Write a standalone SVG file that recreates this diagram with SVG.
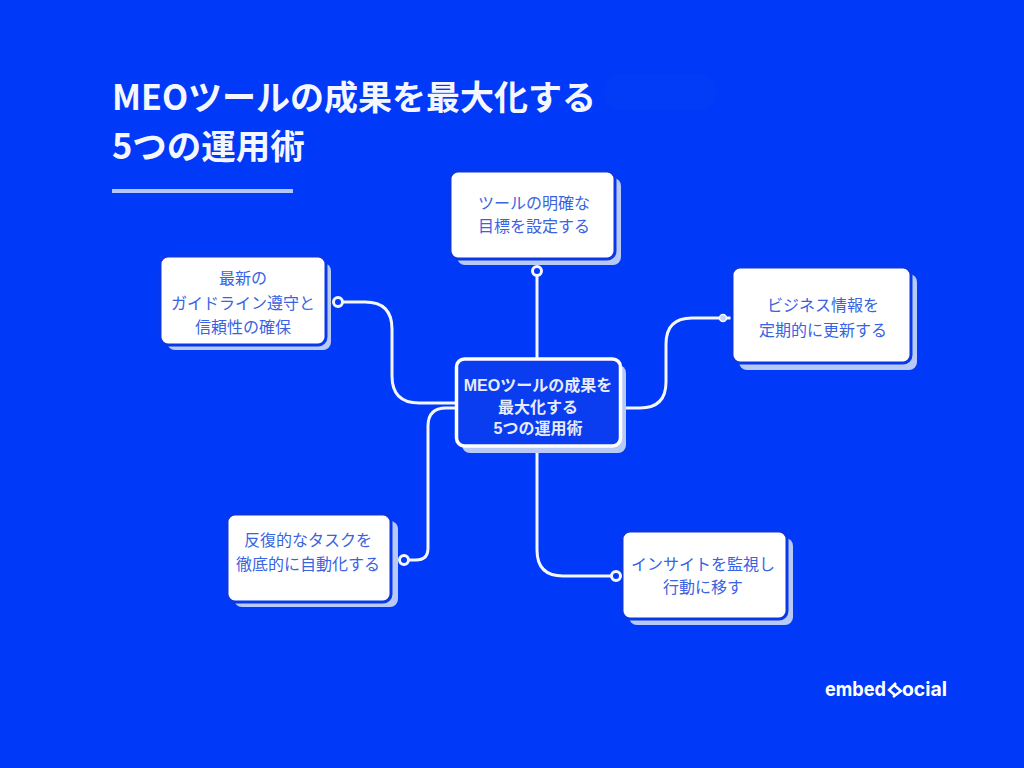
<svg xmlns="http://www.w3.org/2000/svg" width="1024" height="768" viewBox="0 0 1024 768">
<style>
.sh{fill:#b7c9f6}
.box{fill:#fff;stroke:#0a38e6;stroke-width:3}
.t{font-family:"Noto Sans CJK JP","Liberation Sans",sans-serif;font-size:16px;fill:#3a63e2;text-anchor:middle}
.ct{font-family:"Liberation Sans","Noto Sans CJK JP",sans-serif;font-size:16px;font-weight:700;fill:#e6ecfd;text-anchor:middle}
.ttl{font-family:"Noto Sans CJK JP","DejaVu Sans",sans-serif;font-size:34.500px;font-weight:700;fill:#f4f7ff}
.c{fill:none;stroke:#f4f7ff;stroke-width:3}
.dot{fill:#0039f7;stroke:#f4f7ff;stroke-width:3}
</style>
<rect width="1024" height="768" fill="#0039f7"/>
<rect x="604" y="74" width="112" height="36" rx="16" fill="#023cf7"/>
<g id="title">
<text class="ttl" x="112" y="110" textLength="484" lengthAdjust="spacingAndGlyphs">MEOツールの成果を最大化する</text>
<text class="ttl" x="112" y="159">5つの運用術</text>
<rect x="112" y="189" width="181" height="4" fill="#b3c7fb"/>
</g>
<g id="connectors">
<path class="c" d="M537 276V358"/>
<path class="c" d="M342 302H365Q392 302 392 329V376Q392 403 419 403H456"/>
<path class="c" d="M408 560H416Q428 560 428 548V426Q428 408 446 408H458"/>
<path class="c" d="M622 408H640Q666 408 666 382V344Q666 318 692 318H733"/>
<path class="c" d="M537 447V550Q537 576 563 576H612"/>
</g>
<g id="node-top">
<rect class="sh" x="457" y="178" width="164" height="87" rx="8"/>
<rect class="box" x="450" y="171" width="165" height="88" rx="8"/>
<text class="t" x="534" y="209">ツールの明確な</text>
<text class="t" x="534" y="232">目標を設定する</text>
<circle class="dot" cx="537" cy="271" r="4.5"/>
</g>
<g id="node-left">
<rect class="sh" x="167" y="263" width="164" height="87" rx="8"/>
<rect class="box" x="160" y="256" width="166" height="89" rx="8"/>
<text class="t" x="243" y="284">最新の</text>
<text class="t" x="243" y="309">ガイドライン遵守と</text>
<text class="t" x="243" y="333">信頼性の確保</text>
<circle class="dot" cx="338" cy="302" r="4.5"/>
</g>
<g id="node-right">
<rect class="sh" x="739" y="274" width="178" height="96" rx="8"/>
<rect class="box" x="732" y="267" width="179" height="96" rx="8"/>
<text class="t" x="823" y="311">ビジネス情報を</text>
<text class="t" x="823" y="336">定期的に更新する</text>
<circle cx="723" cy="318" r="3.5" fill="#c5d3fa" stroke="#f4f7ff" stroke-width="1.5"/>
</g>
<g id="node-center">
<rect class="sh" x="462" y="365" width="164" height="88" rx="8"/>
<rect x="456.500" y="359" width="164" height="87" rx="8" fill="#0a3cf0" stroke="#fff" stroke-width="3.500"/>
<text class="ct" x="538" y="391">MEOツールの成果を</text>
<text class="ct" x="538" y="413">最大化する</text>
<text class="ct" x="538" y="434">5つの運用術</text>
</g>
<g id="node-bottom-left">
<rect class="sh" x="234" y="521" width="164" height="86" rx="8"/>
<rect class="box" x="227" y="514" width="164" height="88" rx="8"/>
<text class="t" x="308" y="546">反復的なタスクを</text>
<text class="t" x="308" y="570">徹底的に自動化する</text>
<circle class="dot" cx="404" cy="560" r="4.5"/>
</g>
<g id="node-bottom-right">
<rect class="sh" x="629" y="538" width="164" height="87" rx="8"/>
<rect class="box" x="622" y="531" width="165" height="88" rx="8"/>
<text class="t" x="703" y="570">インサイトを監視し</text>
<text class="t" x="703" y="593">行動に移す</text>
<circle class="dot" cx="616" cy="576" r="4.5"/>
</g>
<g id="logo">
<text x="825" y="696" font-family="Inter,'Liberation Sans',sans-serif" font-size="20" font-weight="700" fill="#fff" textLength="61" lengthAdjust="spacingAndGlyphs">embed</text>
<path d="M896 683L889 690L896 696M893 697L901 691L894 685" fill="none" stroke="#fff" stroke-width="2.500"/>
<text x="902" y="696" font-family="Inter,'Liberation Sans',sans-serif" font-size="20" font-weight="700" fill="#fff" textLength="45" lengthAdjust="spacingAndGlyphs">ocial</text>
</g>
</svg>
